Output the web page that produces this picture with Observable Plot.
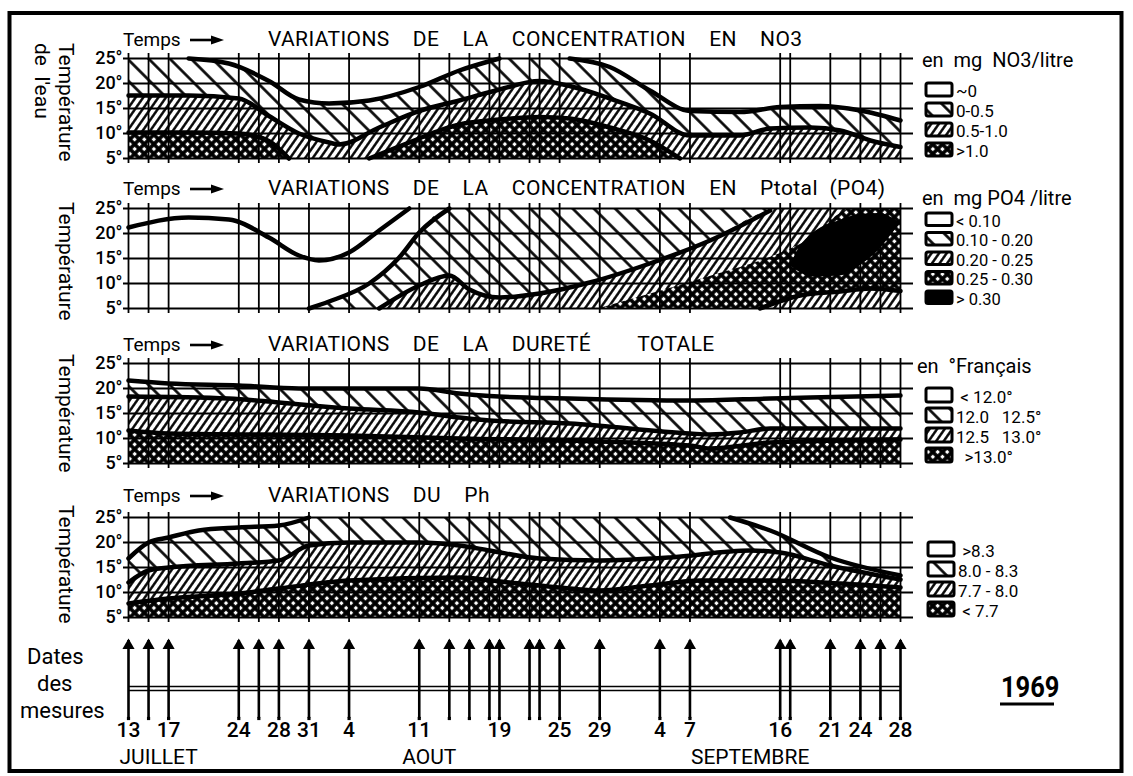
<!DOCTYPE html>
<html lang="fr">
<head>
<meta charset="utf-8">
<title>Variations 1969</title>
<script src="https://cdn.jsdelivr.net/npm/d3@7"></script>
<script src="https://cdn.jsdelivr.net/npm/@observablehq/plot@0.6"></script>
<style>
  html,body{margin:0;padding:0;background:#fff;}
  #page{position:relative;width:1133px;height:776px;overflow:hidden;background:#fff;}
  #page > div.p{position:absolute;left:0;}
  #overlay{position:absolute;left:0;top:0;pointer-events:none;}
  #overlay text{font-family:Roboto,"DejaVu Sans",sans-serif;fill:#000;}
</style>
</head>
<body>
<svg width="0" height="0" style="position:absolute">
  <defs>
    <pattern id="hachClair" patternUnits="userSpaceOnUse" width="15" height="15" patternTransform="rotate(-45)">
      <rect width="15" height="15" fill="#fff"/>
      <rect x="6.2" y="0" width="2.6" height="15" fill="#000"/>
    </pattern>
    <pattern id="hachDense" patternUnits="userSpaceOnUse" width="6.2" height="6.2" patternTransform="rotate(35)">
      <rect width="6.2" height="6.2" fill="#fff"/>
      <rect x="1.9" y="0" width="2.4" height="6.2" fill="#000"/>
    </pattern>
    <pattern id="quadrille" patternUnits="userSpaceOnUse" width="6.8" height="6.8" patternTransform="rotate(45)">
      <rect width="6.8" height="6.8" fill="#000"/>
      <rect x="1.8" y="1.8" width="3.2" height="3.2" fill="#fff"/>
    </pattern>
  </defs>
</svg>
<div id="page"></div>
<script>
// ---------- DATA ----------
const ticksTemp = [5, 10, 15, 20, 25];

const datesMesures = ["07-13","07-15","07-17","07-24","07-26","07-28","07-31","08-04","08-11","08-14","08-16","08-18","08-19","08-22","08-23","08-25","08-29","09-04","09-07","09-16","09-17","09-21","09-24","09-26","09-28"];
const etiquettesDates = [["07-13","13"],["07-17","17"],["07-24","24"],["07-28","28"],["07-31","31"],["08-04","4"],["08-11","11"],["08-19","19"],["08-25","25"],["08-29","29"],["09-04","4"],["09-07","7"],["09-16","16"],["09-21","21"],["09-24","24"],["09-28","28"]];
const mois = [["JUILLET","07-16"],["AOUT","08-12"],["SEPTEMBRE","09-13"]];

// NO3 (date, température de la limite)
const no3LimZeroA = [["07-19",25],["07-23",24],["07-27",20.5],["07-30",16.8],["08-02",16],["08-06",16.6],["08-11",19.3],["08-15",22.6],["08-19",25]];
const no3LimZeroB = [["08-26",25],["08-30",23.3],["09-03",18.6],["09-07",14.5],["09-12",14.3],["09-16",15.3],["09-20",15.5],["09-24",14.6],["09-28",12.6]];
const no3Lim05 = [["07-13",17.6],["07-19",17.6],["07-24",17],["07-27",13.5],["07-30",10],["08-02",8.2],["08-03",7.8],["08-07",11.2],["08-11",14.5],["08-15",16.6],["08-19",18.8],["08-23",20.5],["08-26",19.5],["08-30",17],["09-03",14],["09-07",9.6],["09-12",9.6],["09-15",11],["09-19",11.2],["09-22",10.6],["09-25",8.6],["09-28",7.3]];
const no3Lim10A = [["07-13",10.2],["07-19",10.2],["07-24",10],["07-27",8.5],["07-29",5]];
const no3Lim10B = [["08-06",5],["08-11",9],["08-13",10.6],["08-15",11.8],["08-19",12.8],["08-23",13.3],["08-26",13],["08-30",11.2],["09-03",8.6],["09-06",5]];

// PO4
const po4Trait = [["07-13",21.2],["07-19",23.2],["07-23",22.8],["07-27",19.2],["07-30",15.6],["08-01",14.6],["08-04",16.2],["08-07",20.6],["08-10",25]];
const po4Lim010 = [["07-31",5],["08-02",6.4],["08-06",10],["08-09",15.2],["08-11",20.2],["08-14",25],["09-28",25]];
const po4Lim020 = [["08-07",5],["08-11",9.6],["08-14",11.6],["08-16",8.8],["08-19",7.2],["08-23",8],["08-28",10.2],["09-03",14],["09-09",18.6],["09-15",24.6],["09-16",25],["09-28",25]];
const po4Lim025 = [["08-29",5],["09-05",9],["09-10",12],["09-15",15.2],["09-19",19],["09-22",24],["09-23",25],["09-28",25]];
const po4Lim025Bas = [["09-14",5],["09-18",7.6],["09-22",8.4],["09-25",9],["09-28",8.5]];
const po4Noir = [["09-17",13.6,13.6],["09-18",12.2,17.4],["09-19",11.3,19.6],["09-22",11.5,22.6],["09-24",13.6,23.8],["09-26",17,24],["09-27",19.5,23.3],["09-28",22,22]];

// Dureté
const durLim120 = [["07-13",21.6],["07-17",21],["07-24",20.6],["07-30",20],["08-04",20],["08-11",20],["08-15",19],["08-18",18.5],["08-26",18],["09-07",17.6],["09-15",18],["09-19",18.2],["09-28",18.6]];
const durLim125 = [["07-13",18.4],["07-23",18],["07-28",17.2],["08-04",16],["08-11",15.2],["08-15",14.2],["08-18",13.6],["08-26",13],["09-07",11],["09-09",10.8],["09-12",11.2],["09-15",12],["09-28",12]];
const durLim130 = [["07-13",11.6],["07-17",11],["08-04",10.6],["08-15",10],["08-26",9.6],["09-07",8.6],["09-09",8],["09-15",9.2],["09-28",9.8]];

// pH
const phLim83A = [["07-13",16.8],["07-15",20],["07-17",21],["07-20",22.4],["07-24",23],["07-28",23.4],["07-31",25]];
const phLim83B = [["09-11",25],["09-15",22.4],["09-21",17],["09-28",13.4]];
const phLim80 = [["07-13",12],["07-15",14.4],["07-17",15],["07-24",15.8],["07-28",16.4],["07-31",19.4],["08-04",20],["08-11",20],["08-15",19.4],["08-18",18.4],["08-23",16.8],["08-29",16.4],["09-05",17],["09-13",18.4],["09-16",18],["09-21",15.4],["09-28",12.6]];
const phLim77 = [["07-13",7.8],["07-17",8.8],["07-24",9.8],["07-28",10.8],["08-04",12.4],["08-15",13],["08-20",12],["08-26",10.8],["08-29",10.4],["09-03",11.4],["09-08",12.4],["09-15",12.4],["09-22",11.8],["09-28",11]];

// Titles & legend texts
const titres = ["VARIATIONS  DE  LA  CONCENTRATION  EN  NO3", "VARIATIONS  DE  LA  CONCENTRATION  EN  Ptotal (PO4)", "VARIATIONS  DE  LA  DURETÉ    TOTALE", "VARIATIONS  DU  Ph"];
const legNO3 = ["~0", "0-0.5", "0.5-1.0", ">1.0"];
const legPO4 = ["< 0.10", "0.10 - 0.20", "0.20 - 0.25", "0.25 - 0.30", "> 0.30"];
const legDur = [" < 12.0°", "12.0   12.5°", "12.5   13.0°", "  >13.0°"];
const legPh = [" >8.3", "8.0 - 8.3", "7.7 - 8.0", " < 7.7"];

// ---------- DRAWING ----------
const W = 1133, H = 776;
const P = s => new Date(`1969-${s}T00:00:00Z`);
const xDomain = [P("07-13"), P("09-28")];
const xRange = [128, 900];
const page = d3.select("#page");
const BLANC = "#fff", CLAIR = "url(#hachClair)", DENSE = "url(#hachDense)", QUAD = "url(#quadrille)", NOIR = "#000";

function panneau(top, couches, traits) {
  const marks = [];
  for (const c of couches) {
    if (c.type === "plein") marks.push(Plot.areaY(xDomain, {x: d => d, y1: () => 5, y2: () => 25, fill: c.fill}));
    else if (c.type === "dessus") marks.push(Plot.areaY(c.data, {x: d => P(d[0]), y1: d => d[1], y2: () => 25, fill: c.fill, curve: "monotone-x"}));
    else if (c.type === "dessous") marks.push(Plot.areaY(c.data, {x: d => P(d[0]), y1: () => 5, y2: d => d[1], fill: c.fill, curve: "monotone-x"}));
    else if (c.type === "entre") marks.push(Plot.areaY(c.data, {x: d => P(d[0]), y1: d => d[1], y2: d => d[2], fill: c.fill, curve: "monotone-x"}));
  }
  marks.push(Plot.ruleY(ticksTemp, {stroke: "#000", strokeWidth: 1.8}));
  marks.push(Plot.ruleX(datesMesures, {x: d => P(d), y1: () => 4, y2: () => 26, stroke: "#000", strokeWidth: 1.8}));
  for (const t of traits) marks.push(Plot.line(t, {x: d => P(d[0]), y: d => d[1], stroke: "#000", strokeWidth: 4.5, curve: "monotone-x", strokeLinecap: "round", strokeLinejoin: "round"}));
  marks.push(Plot.text(ticksTemp, {y: d => d, text: d => `${d}°`, frameAnchor: "left", textAnchor: "end", dx: -1, fontSize: 18, fontWeight: 500, fill: "#000"}));
  const svg = Plot.plot({
    width: W, height: 124, marginTop: 10, marginBottom: 14, marginLeft: 123, marginRight: 220,
    x: {type: "utc", domain: xDomain, range: xRange, axis: null},
    y: {domain: [5, 25], axis: null},
    style: {background: "transparent", fontFamily: "Roboto, sans-serif", overflow: "visible"},
    marks
  });
  page.append("div").attr("class", "p").style("top", `${top}px`).node().appendChild(svg);
}

// Panel 1: NO3
panneau(48, [
  {type: "plein", fill: CLAIR},
  {type: "dessus", data: no3LimZeroA, fill: BLANC},
  {type: "dessus", data: no3LimZeroB, fill: BLANC},
  {type: "dessous", data: no3Lim05, fill: DENSE},
  {type: "dessous", data: no3Lim10A, fill: QUAD},
  {type: "dessous", data: no3Lim10B, fill: QUAD}
], [no3LimZeroA, no3LimZeroB, no3Lim05, no3Lim10A, no3Lim10B]);

// Panel 2: PO4
panneau(198, [
  {type: "dessous", data: po4Lim010, fill: CLAIR},
  {type: "dessous", data: po4Lim020, fill: DENSE},
  {type: "dessous", data: po4Lim025, fill: QUAD},
  {type: "dessous", data: po4Lim025Bas, fill: DENSE},
  {type: "entre", data: po4Noir, fill: NOIR}
], [po4Trait, po4Lim010.slice(0, 6), po4Lim020.slice(0, 10), po4Lim025Bas]);

// Panel 3: Dureté
panneau(353, [
  {type: "plein", fill: CLAIR},
  {type: "dessus", data: durLim120, fill: BLANC},
  {type: "dessous", data: durLim125, fill: DENSE},
  {type: "dessous", data: durLim130, fill: QUAD}
], [durLim120, durLim125, durLim130]);

// Panel 4: pH
panneau(507, [
  {type: "plein", fill: CLAIR},
  {type: "dessus", data: phLim83A, fill: BLANC},
  {type: "dessus", data: phLim83B, fill: BLANC},
  {type: "dessous", data: phLim80, fill: DENSE},
  {type: "dessous", data: phLim77, fill: QUAD}
], [phLim83A, phLim83B, phLim80, phLim77]);

// Strip of measurement dates
const strip = Plot.plot({
  width: W, height: 148, marginTop: 12, marginBottom: 58, marginLeft: 123, marginRight: 220,
  x: {type: "utc", domain: xDomain, range: xRange, axis: null},
  y: {domain: [0, 1], axis: null},
  style: {background: "transparent", fontFamily: "Roboto, sans-serif", overflow: "visible"},
  marks: [
    Plot.ruleY([0], {x1: () => P(datesMesures[0]), x2: () => P(datesMesures[datesMesures.length - 1]), dy: -28, stroke: "#000", strokeWidth: 1.4}),
    Plot.ruleY([0], {x1: () => P(datesMesures[0]), x2: () => P(datesMesures[datesMesures.length - 1]), dy: -32, stroke: "#000", strokeWidth: 1.4}),
    Plot.ruleX(datesMesures, {x: d => P(d), stroke: "#000", strokeWidth: 2.6}),
    Plot.dot(datesMesures, {x: d => P(d), frameAnchor: "top", dy: 5, symbol: "triangle", r: 4.5, fill: "#000", stroke: "none"}),
    Plot.dot(datesMesures, {x: d => P(d), frameAnchor: "bottom", symbol: "square", r: 1.8, fill: "#000", stroke: "none"}),
    Plot.text(etiquettesDates, {x: d => P(d[0]), text: d => d[1], frameAnchor: "bottom", dy: 18, fontSize: 21, fontWeight: 500, fill: "#000"}),
    Plot.text(mois, {x: d => P(d[1]), text: d => d[0], frameAnchor: "bottom", dy: 45, fontSize: 21, fontWeight: 400, fill: "#000"})
  ]
});
page.append("div").attr("class", "p").style("top", "628px").node().appendChild(strip);

// Overlay: frame, titles, axis labels, legends
const ov = page.append("svg").attr("id", "overlay").attr("width", W).attr("height", H);
ov.append("rect").attr("x", 9.5).attr("y", 13).attr("width", 1112).attr("height", 758)
  .attr("fill", "none").attr("stroke", "#000").attr("stroke-width", 4);

function txt(x, y, s, size, o = {}) {
  const t = ov.append("text").attr("x", x).attr("y", y).attr("font-size", size)
    .attr("font-weight", o.weight || 400).style("white-space", "pre").text(s);
  if (o.anchor) t.attr("text-anchor", o.anchor);
  if (o.rotate) t.attr("transform", `rotate(90 ${x} ${y})`);
  if (o.ws != null) t.style("word-spacing", `${o.ws}px`);
  if (o.ls != null) t.style("letter-spacing", `${o.ls}px`);
  return t;
}
function temps(y) {
  txt(123, y, "Temps", 19);
  ov.append("line").attr("x1", 190).attr("x2", 214).attr("y1", y - 6).attr("y2", y - 6).attr("stroke", "#000").attr("stroke-width", 2.6);
  ov.append("path").attr("d", `M211,${y - 10.5} L224,${y - 6} L211,${y - 1.5} Z`).attr("fill", "#000");
}
const baselines = [46, 195, 351, 502];
baselines.forEach((b, i) => {
  temps(b);
  txt(268, b, titres[i], 21, {ls: 0.4, ws: 6});
});

// Y labels
txt(59, 43, "Température", 21, {rotate: true});
txt(35, 43, "de  l'eau", 21, {rotate: true});
txt(59, 202, "Température", 21, {rotate: true});
txt(59, 354, "Température", 21, {rotate: true});
txt(59, 505, "Température", 21, {rotate: true});

// Legends
function legende(x, yTop, step, h, fills, labels, fs) {
  labels.forEach((lab, i) => {
    const y = yTop + i * step;
    ov.append("rect").attr("x", x).attr("y", y).attr("width", 26).attr("height", h).attr("rx", 2)
      .attr("fill", fills[i]).attr("stroke", "#000").attr("stroke-width", 3);
    txt(x + 30, y + h + 1, lab, fs);
  });
}
txt(922, 67, "en  mg  NO3/litre", 20);
legende(926, 83, 20, 13, [BLANC, CLAIR, DENSE, QUAD], legNO3, 17);
txt(922, 205, "en  mg PO4 /litre", 20);
legende(926, 213, 19.5, 12.5, [BLANC, CLAIR, DENSE, QUAD, NOIR], legPO4, 16.5);
txt(917, 373, "en  °Français", 20);
legende(926, 388, 20, 14, [BLANC, CLAIR, DENSE, QUAD], legDur, 17);
legende(928, 542, 20, 14, [BLANC, CLAIR, DENSE, QUAD], legPh, 17);

// Bottom labels
txt(27, 664, "Dates", 22);
txt(37, 691, "des", 22);
txt(20, 718, "mesures", 22);
const an = txt(0, 0, "1969", 30, {weight: 700});
an.attr("transform", "translate(1001,697) scale(0.85,1)");
ov.append("line").attr("x1", 1000).attr("x2", 1054).attr("y1", 704).attr("y2", 704).attr("stroke", "#000").attr("stroke-width", 3);
</script>
</body>
</html>
